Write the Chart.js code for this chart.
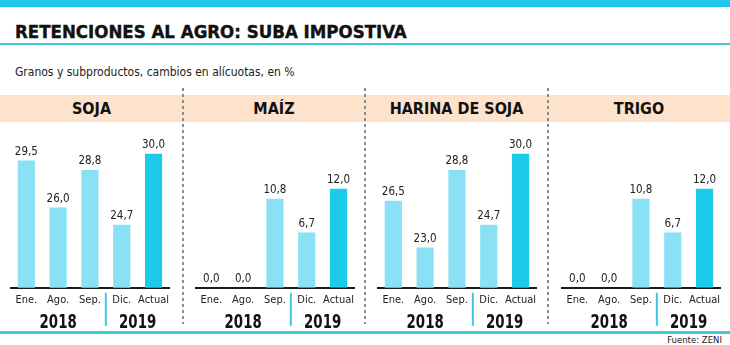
<!DOCTYPE html>
<html lang="es">
<head>
<meta charset="utf-8">
<title>Retenciones al agro</title>
<script src="https://cdn.jsdelivr.net/npm/chart.js@4"></script>
<style>
  html, body { margin: 0; padding: 0; }
  body {
    width: 730px; height: 345px; position: relative; overflow: hidden;
    background: #fff; color: #111;
    font-family: 'DejaVu Sans Condensed', sans-serif;
  }
  .topbar { position: absolute; left: 0; top: 0; width: 730px; height: 7px; background: #1ec8e8; }
  h1 {
    position: absolute; left: 15px; top: 23px; margin: 0;
    font-size: 18.5px; line-height: 18px; font-weight: bold; color: #111;
    -webkit-text-stroke: 0.4px #111;
  }
  .rule { position: absolute; left: 0; width: 730px; background: #3cc7e2; }
  .sub { position: absolute; left: 15px; top: 65px; font-size: 12px; color: #222; }
  .band { position: absolute; left: 0; top: 95px; width: 730px; height: 27px; background: #fde2cc; }
  .head {
    position: absolute; top: 95px; height: 27px; line-height: 27px; text-align: center;
    font-size: 16px; font-weight: bold; color: #111;
  }
  .sep {
    position: absolute; top: 88px; height: 236px; width: 2px;
    background: repeating-linear-gradient(to bottom, #8c8c8c 0 3px, transparent 3px 6px);
  }
  canvas { position: absolute; top: 122px; }
  .source { position: absolute; right: 8px; top: 334px; font-size: 9.5px; color: #222; }
</style>
</head>
<body>
<div class="topbar"></div>
<h1>RETENCIONES AL AGRO: SUBA IMPOSTIVA</h1>
<div class="rule" style="top:43px;height:2px"></div>
<div class="sub">Granos y subproductos, cambios en alícuotas, en %</div>
<div class="band"></div>
<div id="panels"></div>
<div class="rule" style="top:331px;height:3px"></div>
<div class="source">Fuente: ZENI</div>

<script>
const categories = ['Ene.', 'Ago.', 'Sep.', 'Dic.', 'Actual'];
const years = ['2018', '2019'];
const yearStart = [0, 3];          // first category index of each year
const panelTitles = ['SOJA', 'MAÍZ', 'HARINA DE SOJA', 'TRIGO'];
const soja = [29.5, 26.0, 28.8, 24.7, 30.0];
const maiz = [0.0, 0.0, 10.8, 6.7, 12.0];
const harina = [26.5, 23.0, 28.8, 24.7, 30.0];
const trigo = [0.0, 0.0, 10.8, 6.7, 12.0];
const series = [soja, maiz, harina, trigo];

// axis ranges per panel (soja and harina start at 20)
const yMin = [20, 0, 20, 0];
const yMax = [32, 19.5, 32, 19.5];

const panelLeft = [0, 183, 365, 548];
const areaLeft = [10, 195, 377, 561];

const FONT = "'DejaVu Sans Condensed', sans-serif";
const LIGHT = '#8ae0f5';
const STRONG = '#1ccbe9';

// value labels above bars, plus year labels and the divider under the axis
const labelsPlugin = {
  id: 'labels',
  afterDatasetsDraw(chart) {
    const ctx = chart.ctx;
    const meta = chart.getDatasetMeta(0);
    const values = chart.data.datasets[0].data;
    ctx.save();
    ctx.font = '11.5px ' + FONT;
    ctx.fillStyle = '#222';
    ctx.textAlign = 'center';
    ctx.textBaseline = 'bottom';
    meta.data.forEach((bar, i) => {
      ctx.fillText(values[i].toFixed(1).replace('.', ','), bar.x, bar.y - 3);
    });
    ctx.restore();
  },
  afterDraw(chart) {
    const ctx = chart.ctx;
    const x = chart.scales.x;
    const bottom = chart.chartArea.bottom;
    ctx.save();
    // divider between the two years
    const split = (x.getPixelForValue(2) + x.getPixelForValue(3)) / 2;
    ctx.strokeStyle = '#3cc7e2';
    ctx.lineWidth = 2;
    ctx.beginPath();
    ctx.moveTo(split, bottom + 5);
    ctx.lineTo(split, bottom + 38);
    ctx.stroke();
    ctx.font = 'bold 19px ' + FONT;
    ctx.fillStyle = '#111';
    ctx.textAlign = 'center';
    ctx.textBaseline = 'middle';
    years.forEach((yr, k) => {
      const from = yearStart[k];
      const to = k + 1 < yearStart.length ? yearStart[k + 1] - 1 : categories.length - 1;
      const cx = (x.getPixelForValue(from) + x.getPixelForValue(to)) / 2;
      ctx.save();
      ctx.translate(cx, bottom + 35);
      ctx.scale(0.78, 1);
      ctx.fillText(yr, 0, 0);
      ctx.restore();
    });
    ctx.restore();
  }
};

const host = document.getElementById('panels');

panelTitles.forEach((title, p) => {
  const head = document.createElement('div');
  head.className = 'head';
  head.style.left = panelLeft[p] + 'px';
  head.style.width = ((panelLeft[p + 1] || 730) - panelLeft[p]) + 'px';
  head.textContent = title;
  host.appendChild(head);

  if (p > 0) {
    const sep = document.createElement('div');
    sep.className = 'sep';
    sep.style.left = (panelLeft[p] - 1) + 'px';
    host.appendChild(sep);
  }

  const canvas = document.createElement('canvas');
  canvas.width = 165;
  canvas.height = 209;
  canvas.style.left = areaLeft[p] + 'px';
  host.appendChild(canvas);

  new Chart(canvas.getContext('2d'), {
    type: 'bar',
    data: {
      labels: categories,
      datasets: [{
        data: series[p],
        backgroundColor: categories.map((c, i) => i === categories.length - 1 ? STRONG : LIGHT),
        barPercentage: 0.54,
        categoryPercentage: 1
      }]
    },
    options: {
      responsive: false,
      animation: false,
      layout: { padding: { top: 5, left: 0, right: 0, bottom: 18 } },
      plugins: { legend: { display: false }, tooltip: { enabled: false } },
      scales: {
        x: {
          z: 1,
          grid: { display: false, drawTicks: false },
          border: { display: true, color: '#1a1a1a', width: 2 },
          ticks: {
            color: '#222', padding: 6, maxRotation: 0, minRotation: 0, autoSkip: false,
            font: { family: FONT, size: 11 }
          }
        },
        y: { display: false, min: yMin[p], max: yMax[p] }
      }
    },
    plugins: [labelsPlugin]
  });
});
</script>
</body>
</html>
